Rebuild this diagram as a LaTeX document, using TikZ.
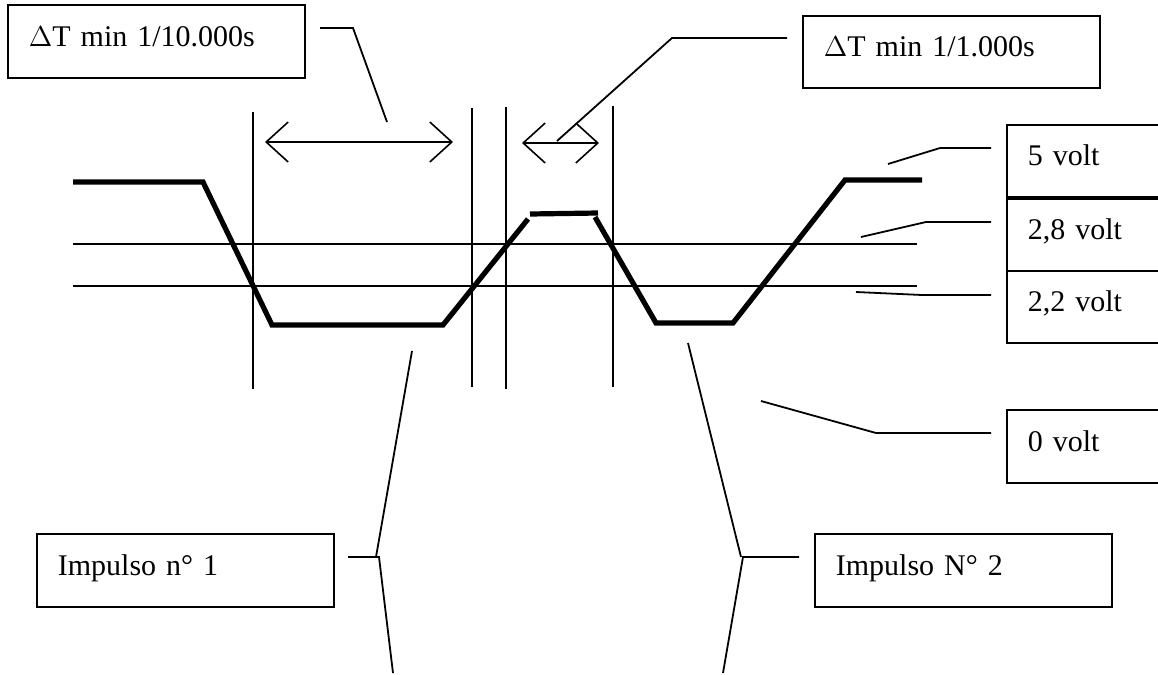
\documentclass[tikz,border=0pt]{standalone}
\usepackage{fontspec}
\setmainfont{Liberation Serif}
\usetikzlibrary{arrows.meta}
\tikzset{
  thin line/.style={line width=0.9pt, line cap=butt},
  wave/.style={line width=2.6pt, line join=miter},
  box/.style={draw, line width=0.9pt, anchor=north west, inner xsep=10.5pt, inner ysep=0pt,
    minimum width=148.5pt, text width=127.5pt, align=left, text height=10pt, text depth=5pt,
    font=\fontsize{15pt}{18pt}\selectfont},
  dim/.style={line width=0.8pt, {Straight Barb[length=11pt,width=20pt]}-{Straight Barb[length=11pt,width=20pt]}},
}
\begin{document}
\begin{tikzpicture}[x=0.5pt, y=-0.5pt]
\useasboundingbox (0,0) rectangle (1158,675);
\clip (0,0) rectangle (1158,675);
% boxes
\node[box, minimum height=36.5pt] (dt1) at (7,4) {$\Delta$T min 1/10.000s};
\node[box, minimum height=36pt] (dt2) at (802,15) {$\Delta$T min 1/1.000s};
\node[box, minimum height=36.5pt] (imp1) at (36,533) {Impulso n° 1};
\node[box, minimum height=36.5pt] (imp2) at (814,533) {Impulso N° 2};
\node[box, minimum height=36pt] (v5) at (1006,124) {5 volt};
\node[box, minimum height=36pt] (v28) at (1006,198) {2,8 volt};
\node[box, minimum height=36pt] (v22) at (1006,270) {2,2 volt};
\node[box, minimum height=36.5pt] (v0) at (1006,409) {0 volt};
% threshold lines
\draw[thin line] (73,244) -- (917,244);
\draw[thin line] (73,286) -- (917,286);
% vertical time markers
\draw[thin line] (253,112) -- (253,389);
\draw[thin line] (472,108) -- (472,387);
\draw[thin line] (506,107) -- (506,389);
\draw[thin line] (613,106) -- (613,387);
% waveform
\draw[wave] (73,182) -- (203,182) -- (272,325) -- (443,325) -- (528,219);
\draw[wave] (530,214) -- (598,213);
\draw[wave] (595,217) -- (656,323) -- (733,323) -- (845,180) -- (922,180);
% dimension arrows
\coordinate (a1l) at (265,142);
\coordinate (a1r) at (453,142);
\coordinate (a2l) at (522,143);
\coordinate (a2r) at (599,143);
\draw[dim] (a1l) -- (a1r);
\draw[dim] (a2l) -- (a2r);
% leaders to top boxes
\coordinate (l1s) at (320,28);
\coordinate (l1e) at (387,122);
\draw[thin line] (l1s) -- (353,28) -- (l1e);
\coordinate (l2s) at (557,141);
\coordinate (l2e) at (787,38);
\draw[thin line] (l2s) -- (672,38) -- (l2e);
% leaders to voltage boxes
\coordinate (p5) at (888,164);
\coordinate (e5) at (991,148);
\draw[thin line] (p5) -- (940,148) -- (e5);
\coordinate (p28) at (861,237);
\coordinate (e28) at (991,222);
\draw[thin line] (p28) -- (926,222) -- (e28);
\coordinate (p22) at (856,292);
\coordinate (e22) at (991,295);
\draw[thin line] (p22) -- (922,295) -- (e22);
\coordinate (p0) at (761,401);
\coordinate (e0) at (991,433);
\draw[thin line] (p0) -- (876,433) -- (e0);
% leaders to impulse boxes
\coordinate (i1a) at (412,351);
\coordinate (i1j) at (379,557);
\coordinate (i1s) at (348,557);
\coordinate (i1b) at (393,673);
\draw[thin line] (i1a) -- (376,557);
\draw[thin line] (i1s) -- (i1j) -- (i1b);
\coordinate (i2a) at (688,343);
\coordinate (i2j) at (743,557);
\coordinate (i2s) at (799,557);
\coordinate (i2b) at (723,673);
\draw[thin line] (i2a) -- (741,557);
\draw[thin line] (i2s) -- (i2j) -- (i2b);
\end{tikzpicture}
\end{document}
